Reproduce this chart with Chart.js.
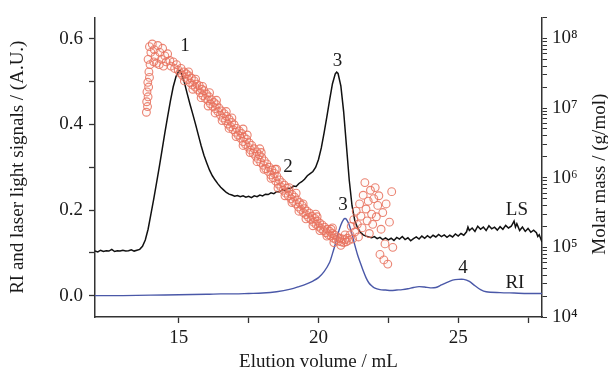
<!DOCTYPE html>
<html><head><meta charset="utf-8">
<script src="https://cdn.jsdelivr.net/npm/chart.js@4.4.0/dist/chart.umd.min.js"></script>
<style>html,body{margin:0;padding:0;background:#fff;overflow:hidden}#c{display:block}</style>
</head><body>
<canvas id="c" width="608" height="378"></canvas>
<script>
// ---- LS signal (black) ----
const lsVolume = [12.0,12.1,12.2,12.3,12.4,12.5,12.6,12.7,12.8,12.9,13.0,13.1,13.2,13.3,13.4,13.5,13.6,13.7,13.8,13.9,14.0,14.1,14.2,14.3,14.4,14.5,14.6,14.7,14.8,14.9,15.0,15.05,15.1,15.2,15.3,15.4,15.5,15.6,15.7,15.8,15.9,16.0,16.1,16.2,16.3,16.4,16.5,16.6,16.7,16.8,16.9,17.0,17.1,17.2,17.3,17.4,17.5,17.6,17.7,17.8,17.9,18.0,18.1,18.2,18.3,18.4,18.5,18.6,18.7,18.8,18.9,19.0,19.1,19.2,19.3,19.4,19.5,19.6,19.7,19.8,19.9,20.0,20.1,20.2,20.3,20.4,20.5,20.6,20.65,20.7,20.8,20.9,21.0,21.1,21.2,21.3,21.4,21.5,21.6,21.7,21.8,21.9,22.0,22.1,22.2,22.3,22.4,22.5,22.6,22.7,22.8,22.9,23.0,23.1,23.2,23.3,23.4,23.5,23.6,23.7,23.8,23.9,24.0,24.1,24.2,24.3,24.4,24.5,24.6,24.7,24.8,24.9,25.0,25.1,25.2,25.3,25.35,25.4,25.5,25.6,25.7,25.8,25.9,26.0,26.1,26.2,26.3,26.4,26.5,26.6,26.7,26.8,26.9,27.0,27.05,27.1,27.2,27.3,27.4,27.5,27.6,27.7,27.8,27.85,27.9,28.0];
const lsSignal = [0.104,0.102,0.106,0.103,0.105,0.104,0.108,0.103,0.105,0.104,0.106,0.104,0.105,0.107,0.104,0.106,0.108,0.115,0.130,0.155,0.190,0.225,0.262,0.300,0.340,0.380,0.418,0.455,0.488,0.512,0.525,0.526,0.518,0.498,0.472,0.447,0.424,0.400,0.375,0.350,0.328,0.310,0.293,0.280,0.270,0.261,0.253,0.247,0.241,0.237,0.235,0.232,0.234,0.231,0.233,0.230,0.232,0.229,0.233,0.231,0.235,0.233,0.237,0.236,0.240,0.238,0.243,0.242,0.247,0.246,0.251,0.250,0.256,0.255,0.262,0.266,0.272,0.280,0.285,0.290,0.300,0.318,0.345,0.380,0.418,0.458,0.495,0.518,0.522,0.519,0.490,0.430,0.350,0.270,0.210,0.175,0.158,0.148,0.142,0.139,0.137,0.135,0.138,0.133,0.136,0.131,0.135,0.130,0.134,0.129,0.136,0.132,0.138,0.131,0.135,0.128,0.133,0.137,0.132,0.139,0.134,0.140,0.135,0.141,0.137,0.143,0.138,0.142,0.136,0.141,0.137,0.144,0.139,0.145,0.141,0.149,0.160,0.152,0.158,0.150,0.162,0.155,0.160,0.152,0.163,0.156,0.160,0.153,0.161,0.155,0.164,0.158,0.162,0.174,0.160,0.168,0.152,0.160,0.150,0.157,0.148,0.153,0.147,0.138,0.142,0.125];

// ---- RI signal (blue) ----
const riVolume = [12.0,13.0,14.0,15.0,16.0,16.5,17.0,17.5,18.0,18.5,19.0,19.3,19.6,19.8,20.0,20.2,20.4,20.5,20.6,20.7,20.8,20.9,20.95,21.0,21.1,21.2,21.3,21.4,21.5,21.6,21.7,21.8,21.9,22.0,22.2,22.4,22.6,22.8,23.0,23.2,23.4,23.6,23.8,24.0,24.2,24.4,24.6,24.8,25.0,25.2,25.4,25.6,25.8,26.0,26.5,27.0,27.5,28.0];
const riSignal = [0.000,0.000,0.001,0.002,0.003,0.004,0.004,0.005,0.006,0.009,0.015,0.021,0.028,0.034,0.042,0.056,0.078,0.098,0.120,0.145,0.165,0.178,0.180,0.178,0.165,0.143,0.118,0.095,0.076,0.058,0.042,0.030,0.023,0.018,0.014,0.013,0.012,0.013,0.014,0.016,0.019,0.021,0.020,0.018,0.019,0.025,0.031,0.036,0.038,0.038,0.033,0.023,0.014,0.009,0.007,0.006,0.005,0.005];

// ---- Molar mass (red open circles, right log axis) ----
const mmVolume = [13.84,13.88,13.85,13.90,13.86,13.92,13.89,13.95,13.93,
 13.97,13.90,14.00,13.95,14.05,14.12,14.15,14.20,14.25,14.32,14.38,14.42,14.50,14.55,14.60,14.68,14.72,14.80,14.85,14.92,14.30,14.10,14.45,
 14.98,15.04,15.08,15.13,15.18,15.22,15.27,15.32,15.36,15.41,15.45,15.50,15.55,15.59,15.64,15.68,15.73,15.77,15.82,15.86,15.90,15.95,15.99,
 16.04,16.08,16.13,16.17,16.22,16.26,16.31,16.35,16.40,16.44,16.49,16.53,16.58,16.62,16.67,16.71,16.76,16.80,16.85,16.89,16.94,16.98,
 17.03,17.07,17.12,17.16,17.21,17.25,17.30,17.34,17.39,17.43,17.48,17.52,17.57,17.61,17.66,17.70,17.75,17.79,17.84,17.88,17.93,17.97,
 18.02,18.06,18.11,18.15,18.20,18.24,18.29,18.33,18.38,18.42,18.47,18.51,18.56,18.60,18.65,18.69,18.74,18.78,18.83,18.87,18.92,18.96,
 19.01,19.05,19.10,19.14,19.19,19.23,19.28,19.32,19.37,19.41,19.46,19.50,19.55,19.59,19.64,19.68,19.73,19.77,19.82,19.86,19.91,19.95,
 20.00,20.04,20.09,20.13,20.18,20.22,20.27,20.31,20.36,20.40,20.45,20.49,20.54,20.58,20.63,20.67,20.72,20.76,20.81,20.85,20.90,20.94,20.99,21.03,21.08,
 15.60,16.10,16.70,17.30,17.90,18.50,19.20,19.90,20.50,
 15.20,15.50,15.80,16.05,16.30,16.55,16.80,17.05,17.30,17.55,17.80,18.05,18.30,18.55,18.80,19.05,19.30,19.55,19.80,20.05,20.30,20.55,20.80,
 15.35,15.85,16.35,16.90,17.45,17.95,18.45,18.95,19.45,19.95,20.45,20.95,
 21.13,21.17,21.22,21.26,21.30,21.35,21.39,21.43,21.47,21.52,21.56,21.60,21.66,21.70,21.74,21.78,21.82,21.86,21.90,21.94,21.98,22.03,22.07,22.12,22.16,22.20,22.24,22.30,22.34,22.38,22.42,22.48,22.54,22.62,22.66];
const mmMass = [8.7e6,1.05e7,1.23e7,1.45e7,1.70e7,2.0e7,2.34e7,2.75e7,3.3e7,
 4.2e7,5.0e7,6.3e7,7.6e7,8.3e7,6.9e7,5.5e7,4.4e7,7.9e7,6.3e7,5.0e7,7.2e7,5.6e7,4.6e7,6.0e7,4.8e7,4.0e7,4.6e7,3.7e7,4.2e7,4.2e7,4.6e7,4.0e7,
 3.5e7,3.2e7,3.7e7,2.95e7,3.3e7,2.75e7,3.1e7,2.57e7,2.9e7,2.3e7,2.7e7,2.14e7,2.45e7,2.0e7,2.2e7,1.82e7,2.1e7,1.66e7,1.86e7,1.51e7,1.78e7,1.38e7,1.58e7,
 1.29e7,1.45e7,1.15e7,1.32e7,1.05e7,1.20e7,9.8e6,1.12e7,8.9e6,1.0e7,7.9e6,9.1e6,7.2e6,8.3e6,6.6e6,7.6e6,5.9e6,6.9e6,5.4e6,6.2e6,4.9e6,5.75e6,
 4.5e6,5.1e6,4.1e6,4.7e6,3.7e6,4.3e6,3.3e6,3.8e6,3.0e6,3.55e6,2.75e6,3.16e6,2.5e6,2.9e6,2.24e6,2.6e6,2.04e6,2.34e6,1.86e6,2.14e6,1.66e6,1.95e6,
 1.51e6,1.74e6,1.35e6,1.58e6,1.23e6,1.41e6,1.10e6,1.29e6,1.0e6,1.15e6,8.9e5,1.05e6,8.1e5,9.3e5,7.4e5,8.5e5,6.6e5,7.8e5,6.0e5,7.1e5,5.5e5,6.3e5,
 5.0e5,5.75e5,4.6e5,5.25e5,4.2e5,4.8e5,3.8e5,4.4e5,3.5e5,4.0e5,3.16e5,3.6e5,2.95e5,3.3e5,2.7e5,3.1e5,2.5e5,2.8e5,2.3e5,2.6e5,2.14e5,2.4e5,
 2.0e5,2.24e5,1.86e5,2.1e5,1.74e5,1.95e5,1.62e5,1.82e5,1.51e5,1.70e5,1.45e5,1.58e5,1.35e5,1.51e5,1.29e5,1.41e5,1.23e5,1.35e5,1.20e5,1.32e5,1.17e5,1.29e5,1.20e5,1.35e5,1.26e5,
 2.6e7,1.66e7,8.9e6,5.0e6,2.6e6,1.32e6,6.0e5,3.0e5,1.9e5,
 2.45e7,1.86e7,1.41e7,1.07e7,8.5e6,6.6e6,5.1e6,3.9e6,2.9e6,2.3e6,1.7e6,1.32e6,9.8e5,7.1e5,5.5e5,4.4e5,3.3e5,2.57e5,2.04e5,1.74e5,1.45e5,1.17e5,1.07e5,
 3.3e7,2.04e7,1.29e7,7.2e6,4.1e6,2.3e6,1.32e6,7.2e5,4.2e5,2.75e5,1.82e5,1.51e5,
 1.51e5,2.0e5,1.32e5,2.5e5,1.66e5,3.3e5,2.14e5,1.41e5,4.2e5,2.8e5,1.9e5,5.6e5,8.5e5,3.55e5,2.4e5,4.6e5,1.58e5,6.6e5,3.0e5,2.14e5,5.0e5,7.2e5,2.75e5,4.0e5,5.5e5,7.9e4,1.82e5,3.16e5,6.6e4,1.12e5,4.2e5,5.75e4,2.3e5,6.3e5,1.0e5];

// ---- Axis ticks ----
const xTicks = [15, 17.5, 20, 22.5, 25, 27.5];
const xTickLabels = {15: '15', 20: '20', 25: '25'};
const yTicks = [0, 0.1, 0.2, 0.3, 0.4, 0.5, 0.6];
const yTickLabels = ['0.0', '', '0.2', '', '0.4', '', '0.6'];
const massDecades = [1e4, 1e5, 1e6, 1e7, 1e8];
const massDecadeLabels = ['10\u2074', '10\u2075', '10\u2076', '10\u2077', '10\u2078'];
const massMinorSteps = [2, 3, 4, 5, 6, 7, 8, 9];
const rightTitle = 'Molar mass / (g/mol)';

// ---- Peak annotations ----
const annoText = ['1', '2', '3', '3', '4', 'LS', 'RI'];
const annoVolume = [15.22, 18.91, 20.68, 20.88, 25.17, 27.1, 27.03];
const annoSignal = [0.582, 0.300, 0.548, 0.212, 0.065, 0.200, 0.030];

const FONT = 'Liberation Serif';
const INK = '#1a1a1a';
const AX = '#333';

const annoPlugin = {
  id: 'anno',
  afterDatasetsDraw(chart) {
    const {ctx, scales} = chart;
    ctx.save();
    ctx.font = '19px "' + FONT + '"';
    ctx.fillStyle = INK;
    ctx.textAlign = 'center';
    ctx.textBaseline = 'middle';
    annoText.forEach((t, i) => {
      ctx.fillText(t, scales.x.getPixelForValue(annoVolume[i]), scales.y.getPixelForValue(annoSignal[i]));
    });
    // right axis title, reading bottom-to-top like the left one
    const s = scales.y2;
    ctx.translate(s.right - 8, (s.top + s.bottom) / 2 + 7);
    ctx.rotate(-Math.PI / 2);
    ctx.fillText(rightTitle, 0, 0);
    ctx.restore();
  }
};

const massTickValues = [];
massDecades.forEach(d => { massTickValues.push(d); if (d < 1e8) massMinorSteps.forEach(m => massTickValues.push(d * m)); });
massTickValues.push(2e8);

new Chart(document.getElementById('c'), {
  type: 'scatter',
  data: {
    datasets: [
      {
        label: 'Molar mass', yAxisID: 'y2',
        data: mmVolume.map((v, i) => ({x: v, y: mmMass[i]})),
        pointRadius: 3.9, pointBorderWidth: 1.1,
        pointBorderColor: 'rgba(232,112,92,0.85)', pointBackgroundColor: 'rgba(245,170,150,0.06)',
        order: 1
      },
      {
        label: 'LS', yAxisID: 'y', showLine: true,
        data: lsVolume.map((v, i) => ({x: v, y: lsSignal[i]})),
        borderColor: '#111', borderWidth: 1.5, pointRadius: 0, tension: 0,
        order: 2
      },
      {
        label: 'RI', yAxisID: 'y', showLine: true,
        data: riVolume.map((v, i) => ({x: v, y: riSignal[i]})),
        borderColor: '#4a58a8', borderWidth: 1.4, pointRadius: 0, tension: 0.3,
        order: 3
      }
    ]
  },
  options: {
    responsive: false, animation: false, devicePixelRatio: 1,
    layout: {padding: {top: 14, left: 0, right: 0, bottom: 0}},
    plugins: {legend: {display: false}, tooltip: {enabled: false}},
    scales: {
      x: {
        type: 'linear', position: 'bottom', min: 12, max: 28,
        afterBuildTicks: s => { s.ticks = xTicks.map(v => ({value: v})); },
        afterFit: s => { s.height = 61; },
        grid: {drawOnChartArea: false, tickLength: 6, tickColor: AX, tickWidth: 1.3},
        border: {color: AX, width: 1.5},
        ticks: {autoSkip: false, maxRotation: 0, padding: 4, color: INK,
          font: {family: FONT, size: 19}, callback: v => xTickLabels[v] || ''},
        title: {display: true, text: 'Elution volume / mL', color: INK,
          font: {family: FONT, size: 19}, padding: {top: 0, bottom: 5}}
      },
      y: {
        type: 'linear', position: 'left', min: -0.05, max: 0.65,
        afterBuildTicks: s => { s.ticks = yTicks.map(v => ({value: v})); },
        afterFit: s => { s.width = 95; },
        grid: {drawOnChartArea: false, tickLength: 6, tickColor: AX, tickWidth: 1.3},
        border: {color: AX, width: 1.5},
        ticks: {autoSkip: false, padding: 6, color: INK, font: {family: FONT, size: 19},
          callback: (v, i) => yTickLabels[i]},
        title: {display: true, text: 'RI and laser light signals / (A.U.)', color: INK,
          font: {family: FONT, size: 19}, padding: {top: 7, bottom: 0}}
      },
      y2: {
        type: 'logarithmic', position: 'right', min: 1e4, max: 2e8,
        afterBuildTicks: s => { s.ticks = massTickValues.map(v => ({value: v})); },
        afterFit: s => { s.width = 66; },
        grid: {drawOnChartArea: false, tickLength: 5, tickColor: AX, tickWidth: 1},
        border: {color: AX, width: 1.5},
        ticks: {autoSkip: false, padding: 5, color: INK, font: {family: FONT, size: 19},
          callback: v => { const k = massDecades.indexOf(v); return k >= 0 ? massDecadeLabels[k] : ''; }},
        title: {display: false}
      }
    }
  },
  plugins: [annoPlugin]
});
</script>
</body></html>
